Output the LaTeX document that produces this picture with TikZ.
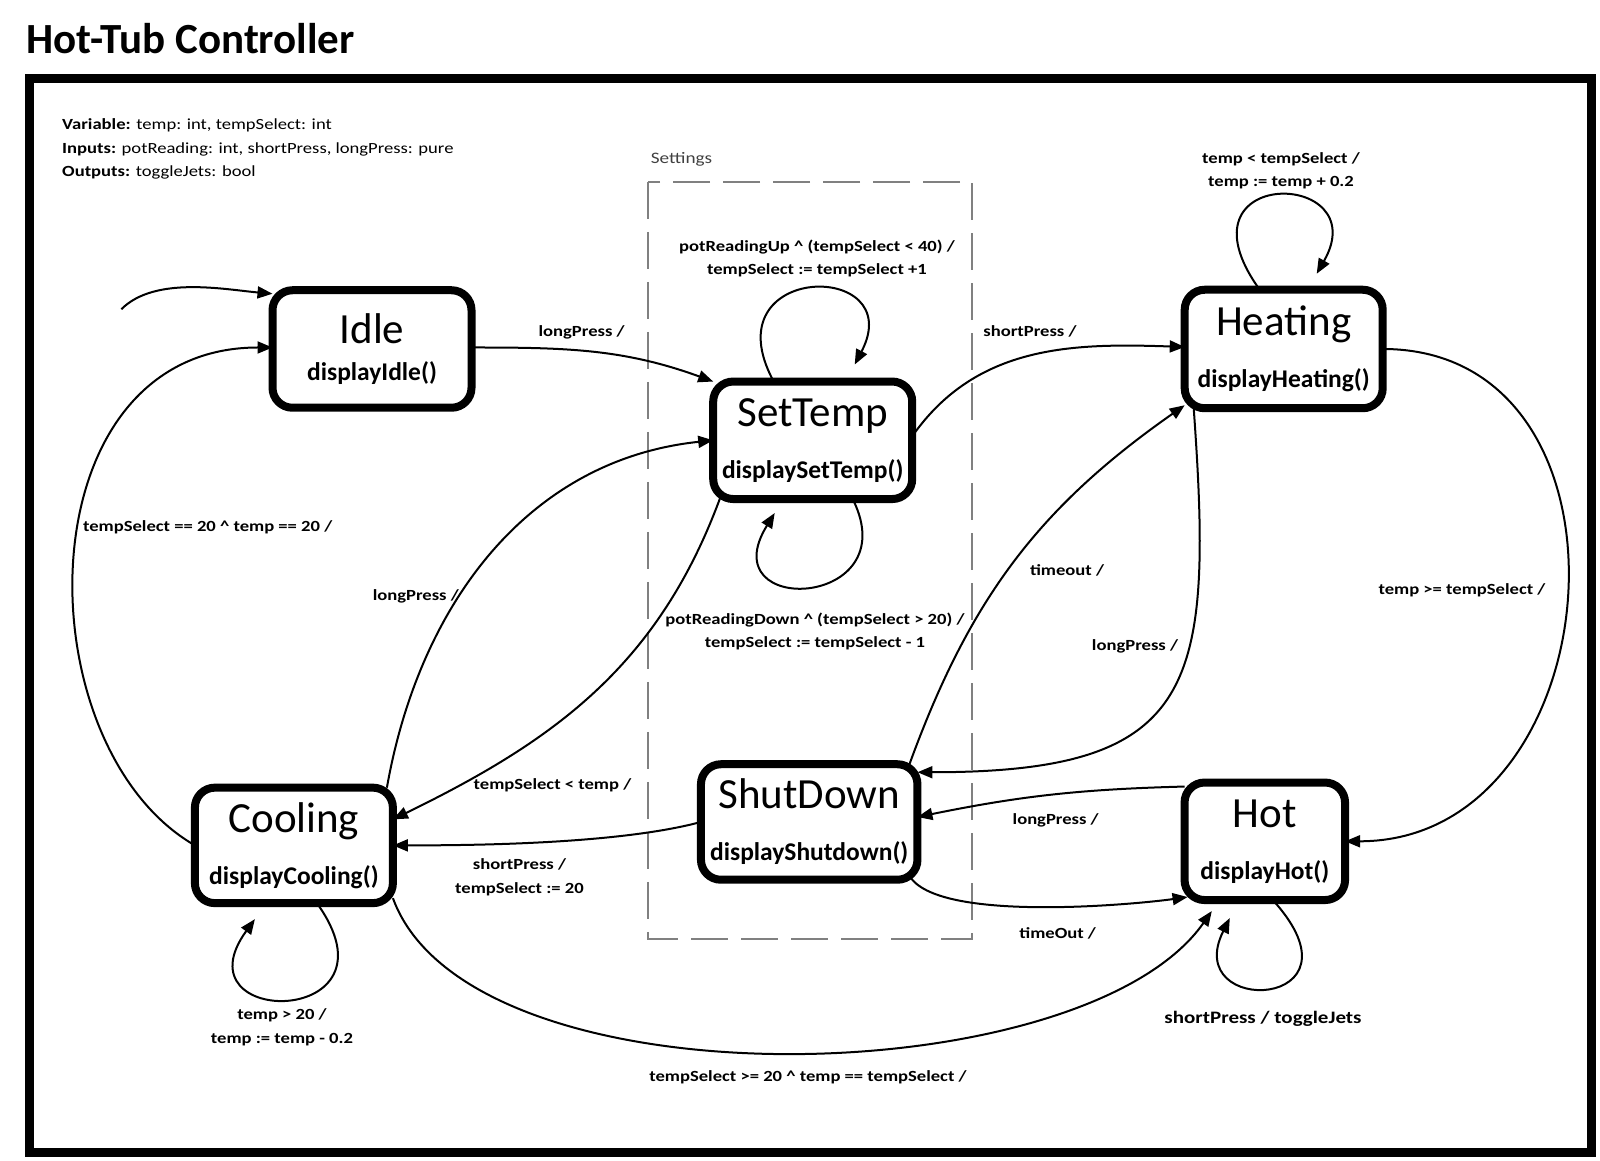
\documentclass[tikz,border=0pt]{standalone}
\usepackage{fontspec}
\setmainfont{Carlito}
\newfontfamily\widefont[FakeStretch=1.2]{Carlito}
\usetikzlibrary{arrows.meta}

\tikzset{
  state/.style={draw, line width=8pt, rounded corners=20pt, inner sep=0pt, outer sep=0pt,
    align=center, font=\fontsize{25.5}{52}\selectfont},
  trans/.style={-{Triangle[length=15pt,width=12pt]}, line width=2pt},
  lbl/.style={font=\widefont\fontsize{15.5}{23.5}\selectfont\bfseries, anchor=base, inner sep=0pt, align=center},
  hdr/.style={font=\widefont\fontsize{15.5}{18}\selectfont, anchor=base west, inner sep=0pt},
}
\newcommand{\statename}[1]{{\fontsize{43}{43}\selectfont #1}}

\begin{document}
\begin{tikzpicture}[x=1pt, y=1pt]
  \useasboundingbox (0,0) rectangle (1600,1161);

  % 1. frame and title
  \draw[line width=9pt] (29.5,8.5) rectangle (1591.5,1082.5);
  \node[anchor=base west, inner sep=0pt, font=\fontsize{43}{44}\selectfont\bfseries] (title) at (26,1107.7) {Hot-Tub Controller};

  % 2. declarations
  \node[hdr] (vars) at (62,1031) {\textbf{Variable:} temp: int, tempSelect: int};
  \node[hdr] (ins) at (62,1007.7) {\textbf{Inputs:} potReading: int, shortPress, longPress: pure};
  \node[hdr] (outs) at (62,984.3) {\textbf{Outputs:} toggleJets: bool};

  % 3. settings region
  \draw[gray, line width=2.5pt, dash pattern=on 37pt off 13pt] (648,979) rectangle (972,222);
  \node[anchor=base west, inner sep=0pt, text=black!75, font=\widefont\fontsize{16}{18}\selectfont] (settings) at (650.7,997.7) {Settings};

  % 4. states
  \node[state, minimum width=199pt, minimum height=117.5pt, font=\fontsize{25.5}{37}\selectfont] (idle) at (372,812) {\statename{Idle}\\\textbf{displayIdle()}};
  \node[state, minimum width=199pt, minimum height=117.5pt] (settemp) at (812.7,720.7) {\statename{SetTemp}\\\textbf{displaySetTemp()}};
  \node[state, minimum width=198pt, minimum height=118.5pt] (heating) at (1283.7,812) {\statename{Heating}\\\textbf{displayHeating()}};
  \node[state, minimum width=198pt, minimum height=115.5pt] (cooling) at (293.9,315.6) {\statename{Cooling}\\\textbf{displayCooling()}};
  \node[state, minimum width=216.5pt, minimum height=115.5pt] (shutdown) at (809.2,339) {\statename{ShutDown}\\\textbf{displayShutdown()}};
  \node[state, minimum width=160.5pt, minimum height=117.5pt] (hot) at (1264.8,319.7) {\statename{Hot}\\\textbf{displayHot()}};

  % 5. transitions
  \coordinate (init) at (121.4,851.8);
  \draw[trans] (init) to[out=45,in=175,looseness=0.8] ([yshift=-3.5pt]idle.north west);
  \draw[trans] ([yshift=1.5pt]idle.east) to[out=0,in=160] (settemp.north west);
  \draw[trans] ([xshift=-39pt]settemp.north) .. controls +(-65,120) and +(55,105) .. ([xshift=42pt,yshift=17pt]settemp.north);
  \draw[trans] ([xshift=40pt]settemp.south) .. controls +(55,-110) and +(-65,-105) .. ([xshift=-38pt,yshift=-14pt]settemp.south);
  \draw[trans] ([yshift=4pt]settemp.east) to[out=55,in=178] ([yshift=2pt]heating.west);
  \draw[trans] ([xshift=-24pt]heating.north) .. controls +(-90,125) and +(60,105) .. ([xshift=33pt,yshift=16pt]heating.north);
  \draw[trans] (heating.east) .. controls +(270,0) and +(270,0) .. (hot.east);
  \draw[trans] ([xshift=9pt]heating.south west) .. controls +(20,-280) and +(280,0) .. ([yshift=-8pt]shutdown.north east);
  \draw[trans] ([xshift=-8pt]shutdown.north east) to[out=70,in=-145] ([yshift=3pt]heating.south west);
  \draw[trans] ([yshift=-4pt]hot.north west) to[bend right=5] ([yshift=5pt]shutdown.east);
  \draw[trans] ([xshift=-8pt,yshift=4pt]shutdown.south east) to[out=-60,in=188,looseness=0.5] ([xshift=3pt,yshift=3pt]hot.south west);
  \draw[trans] ([xshift=8pt]hot.south) .. controls +(100,-110) and +(-50,-100) .. ([xshift=-35pt,yshift=-18pt]hot.south);
  \draw[trans] ([yshift=5pt]cooling.south east) to[out=-70,in=-125,looseness=0.7] ([xshift=-53pt,yshift=-11pt]hot.south);
  \draw[trans] ([xshift=23pt]cooling.south) .. controls +(90,-125) and +(-80,-110) .. ([xshift=-39pt,yshift=-16pt]cooling.south);
  \draw[trans] (cooling.west) .. controls +(-173,100) and +(-250,0) .. ([yshift=1.5pt]idle.west);
  \draw[trans] ([xshift=-6pt]cooling.north east) to[out=80,in=186] (settemp.west);
  \draw[trans] ([xshift=8pt,yshift=4pt]settemp.south west) to[out=-110,in=26] ([yshift=26pt]cooling.east);
  \draw[trans] (shutdown.west) to[out=195,in=0,looseness=0.7] (cooling.east);

  % 6. transition labels
  \node[lbl] (lIdleSet) at (581.6,824.3) {longPress /};
  \node[lbl] (lSetHeat) at (1030,824.3) {shortPress /};
  \node[lbl, anchor=center] (lSetUp) at (817,902.4) {potReadingUp \textasciicircum\ (tempSelect < 40) /\\tempSelect := tempSelect +1};
  \node[lbl, anchor=center] (lSetDown) at (815,529.4) {potReadingDown \textasciicircum\ (tempSelect > 20) /\\tempSelect := tempSelect - 1};
  \node[lbl, anchor=center] (lHeatLoop) at (1281,990.4) {temp < tempSelect /\\temp := temp + 0.2};
  \node[lbl] (lHeatHot) at (1462,566) {temp >= tempSelect /};
  \node[lbl] (lShutHeat) at (1067,585) {timeout /};
  \node[lbl] (lHeatShut) at (1135,510) {longPress /};
  \node[lbl] (lHotShut) at (1055.7,336.5) {longPress /};
  \node[lbl] (lShutHot) at (1057.7,222.2) {timeOut /};
  \node[lbl, font=\widefont\fontsize{17.5}{20}\selectfont\bfseries] (lHotLoop) at (1263,137.7) {shortPress / toggleJets};
  \node[lbl] (lCoolHot) at (808,79) {tempSelect >= 20 \textasciicircum\ temp == tempSelect /};
  \node[lbl, anchor=center] (lCoolLoop) at (282,133.9) {temp > 20 /\\temp := temp - 0.2};
  \node[lbl] (lCoolIdle) at (207.7,629.4) {tempSelect == 20 \textasciicircum\ temp == 20 /};
  \node[lbl] (lCoolSet) at (415.8,560) {longPress /};
  \node[lbl] (lSetCool) at (552.5,371) {tempSelect < temp /};
  \node[lbl, anchor=center] (lShutCool) at (519.5,283.9) {shortPress /\\tempSelect := 20};
\end{tikzpicture}
\end{document}
